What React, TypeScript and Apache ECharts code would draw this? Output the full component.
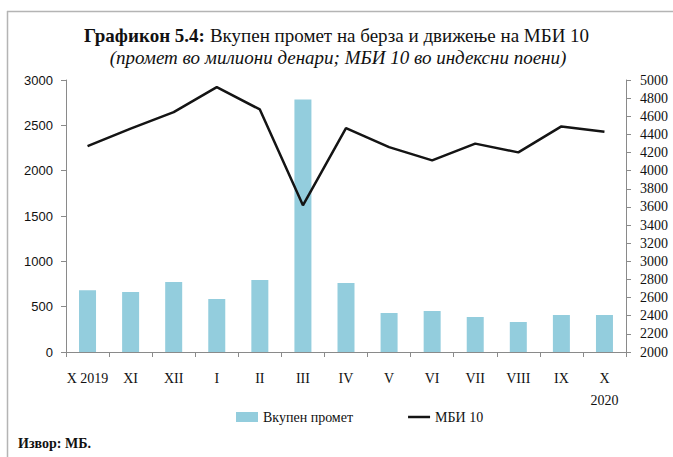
import React, { useEffect, useRef } from "react";
import * as echarts from "echarts";

const categories = ["X 2019", "XI", "XII", "I", "II", "III", "IV", "V", "VI", "VII", "VIII", "IX", "X\n2020"];
const turnover = [682, 662, 772, 585, 794, 2785, 761, 430, 452, 386, 331, 408, 408];
const mbi10 = [4271, 4463, 4646, 4921, 4675, 3618, 4470, 4260, 4114, 4298, 4202, 4488, 4430];
const leftTicks = { min: 0, max: 3000, interval: 500 };
const rightTicks = { min: 2000, max: 5000, interval: 200 };

const serif = "'Liberation Serif', 'DejaVu Serif', serif";
const sans = "'Liberation Sans', 'DejaVu Sans', sans-serif";
const axisGray = "#8a8a8a";

export default function App() {
  const ref = useRef<HTMLDivElement>(null);
  useEffect(() => {
    if (!ref.current) return;
    const chart = echarts.init(ref.current, undefined, { renderer: "svg" });
    const legendText = { fontFamily: serif, fontSize: 14, fontWeight: "normal", color: "#111" };
    chart.setOption({
      animation: false,
      backgroundColor: "#ffffff",
      title: [
        {
          text: "{b|Графикон 5.4:} {r|Вкупен промет на берза и движење на МБИ 10}",
          left: "center",
          top: 21,
          textStyle: {
            rich: {
              b: { fontFamily: serif, fontWeight: "bold", fontSize: 19, color: "#111" },
              r: { fontFamily: serif, fontWeight: "normal", fontSize: 19, color: "#111" },
            },
          },
        },
      ],
      grid: { left: 66, right: 47, top: 80, bottom: 105, containLabel: false },
      legend: {
        bottom: 28,
        left: 231,
        itemGap: 55,
        itemWidth: 22,
        itemHeight: 10,
        symbolKeepAspect: true,
        textStyle: legendText,
        data: [
          { name: "Вкупен промет", icon: "rect", textStyle: legendText },
          { name: "МБИ 10", icon: "path://M0,0L22,0L22,2.5L0,2.5Z", textStyle: legendText },
        ],
      },
      xAxis: {
        type: "category",
        data: categories,
        axisLine: { lineStyle: { color: axisGray, width: 1 } },
        axisTick: { show: true, length: 5, lineStyle: { color: axisGray } },
        axisLabel: { fontFamily: serif, fontSize: 14, color: "#111", margin: 15, lineHeight: 22, interval: 0 },
      },
      yAxis: [
        {
          type: "value",
          ...leftTicks,
          splitLine: { show: false },
          axisLine: { show: true, lineStyle: { color: axisGray } },
          axisTick: { show: true, length: 5, lineStyle: { color: axisGray } },
          axisLabel: { fontFamily: sans, fontSize: 13, color: "#111", margin: 13, formatter: (v: number) => String(v) },
        },
        {
          type: "value",
          ...rightTicks,
          splitLine: { show: false },
          axisLine: { show: true, lineStyle: { color: axisGray } },
          axisTick: { show: true, length: 5, lineStyle: { color: axisGray } },
          axisLabel: { fontFamily: serif, fontSize: 14, color: "#111", margin: 14, formatter: (v: number) => String(v) },
        },
      ],
      series: [
        {
          name: "Вкупен промет",
          type: "bar",
          data: turnover,
          yAxisIndex: 0,
          barWidth: 17,
          itemStyle: { color: "#93CDDD" },
        },
        {
          name: "МБИ 10",
          type: "line",
          data: mbi10,
          yAxisIndex: 1,
          symbol: "none",
          lineStyle: { color: "#141414", width: 2.5 },
          itemStyle: { color: "#141414" },
        },
      ],
      graphic: [
        { type: "line", shape: { x1: 7, y1: 11.5, x2: 673, y2: 11.5 }, style: { stroke: "#b4b4b4", lineWidth: 1.5 } },
        { type: "line", shape: { x1: 7.5, y1: 11, x2: 7.5, y2: 457 }, style: { stroke: "#b4b4b4", lineWidth: 1.5 } },
        {
          type: "text",
          x: 338,
          y: 57,
          style: {
            text: "(промет во милиони денари; МБИ 10 во индексни поени)",
            fontFamily: serif,
            fontStyle: "italic",
            fontWeight: "normal",
            fontSize: 19,
            fill: "#111",
            align: "center",
            verticalAlign: "middle",
          },
        },
        {
          type: "text",
          left: 18,
          top: 436,
          style: { text: "Извор: МБ.", fontFamily: serif, fontWeight: "bold", fontSize: 14, fill: "#111" },
        },
      ],
    });
    return () => chart.dispose();
  }, []);
  return (
    <div
      ref={ref}
      style={{ position: "fixed", left: 0, top: 0, width: 673, height: 457, background: "#fff" }}
    />
  );
}
